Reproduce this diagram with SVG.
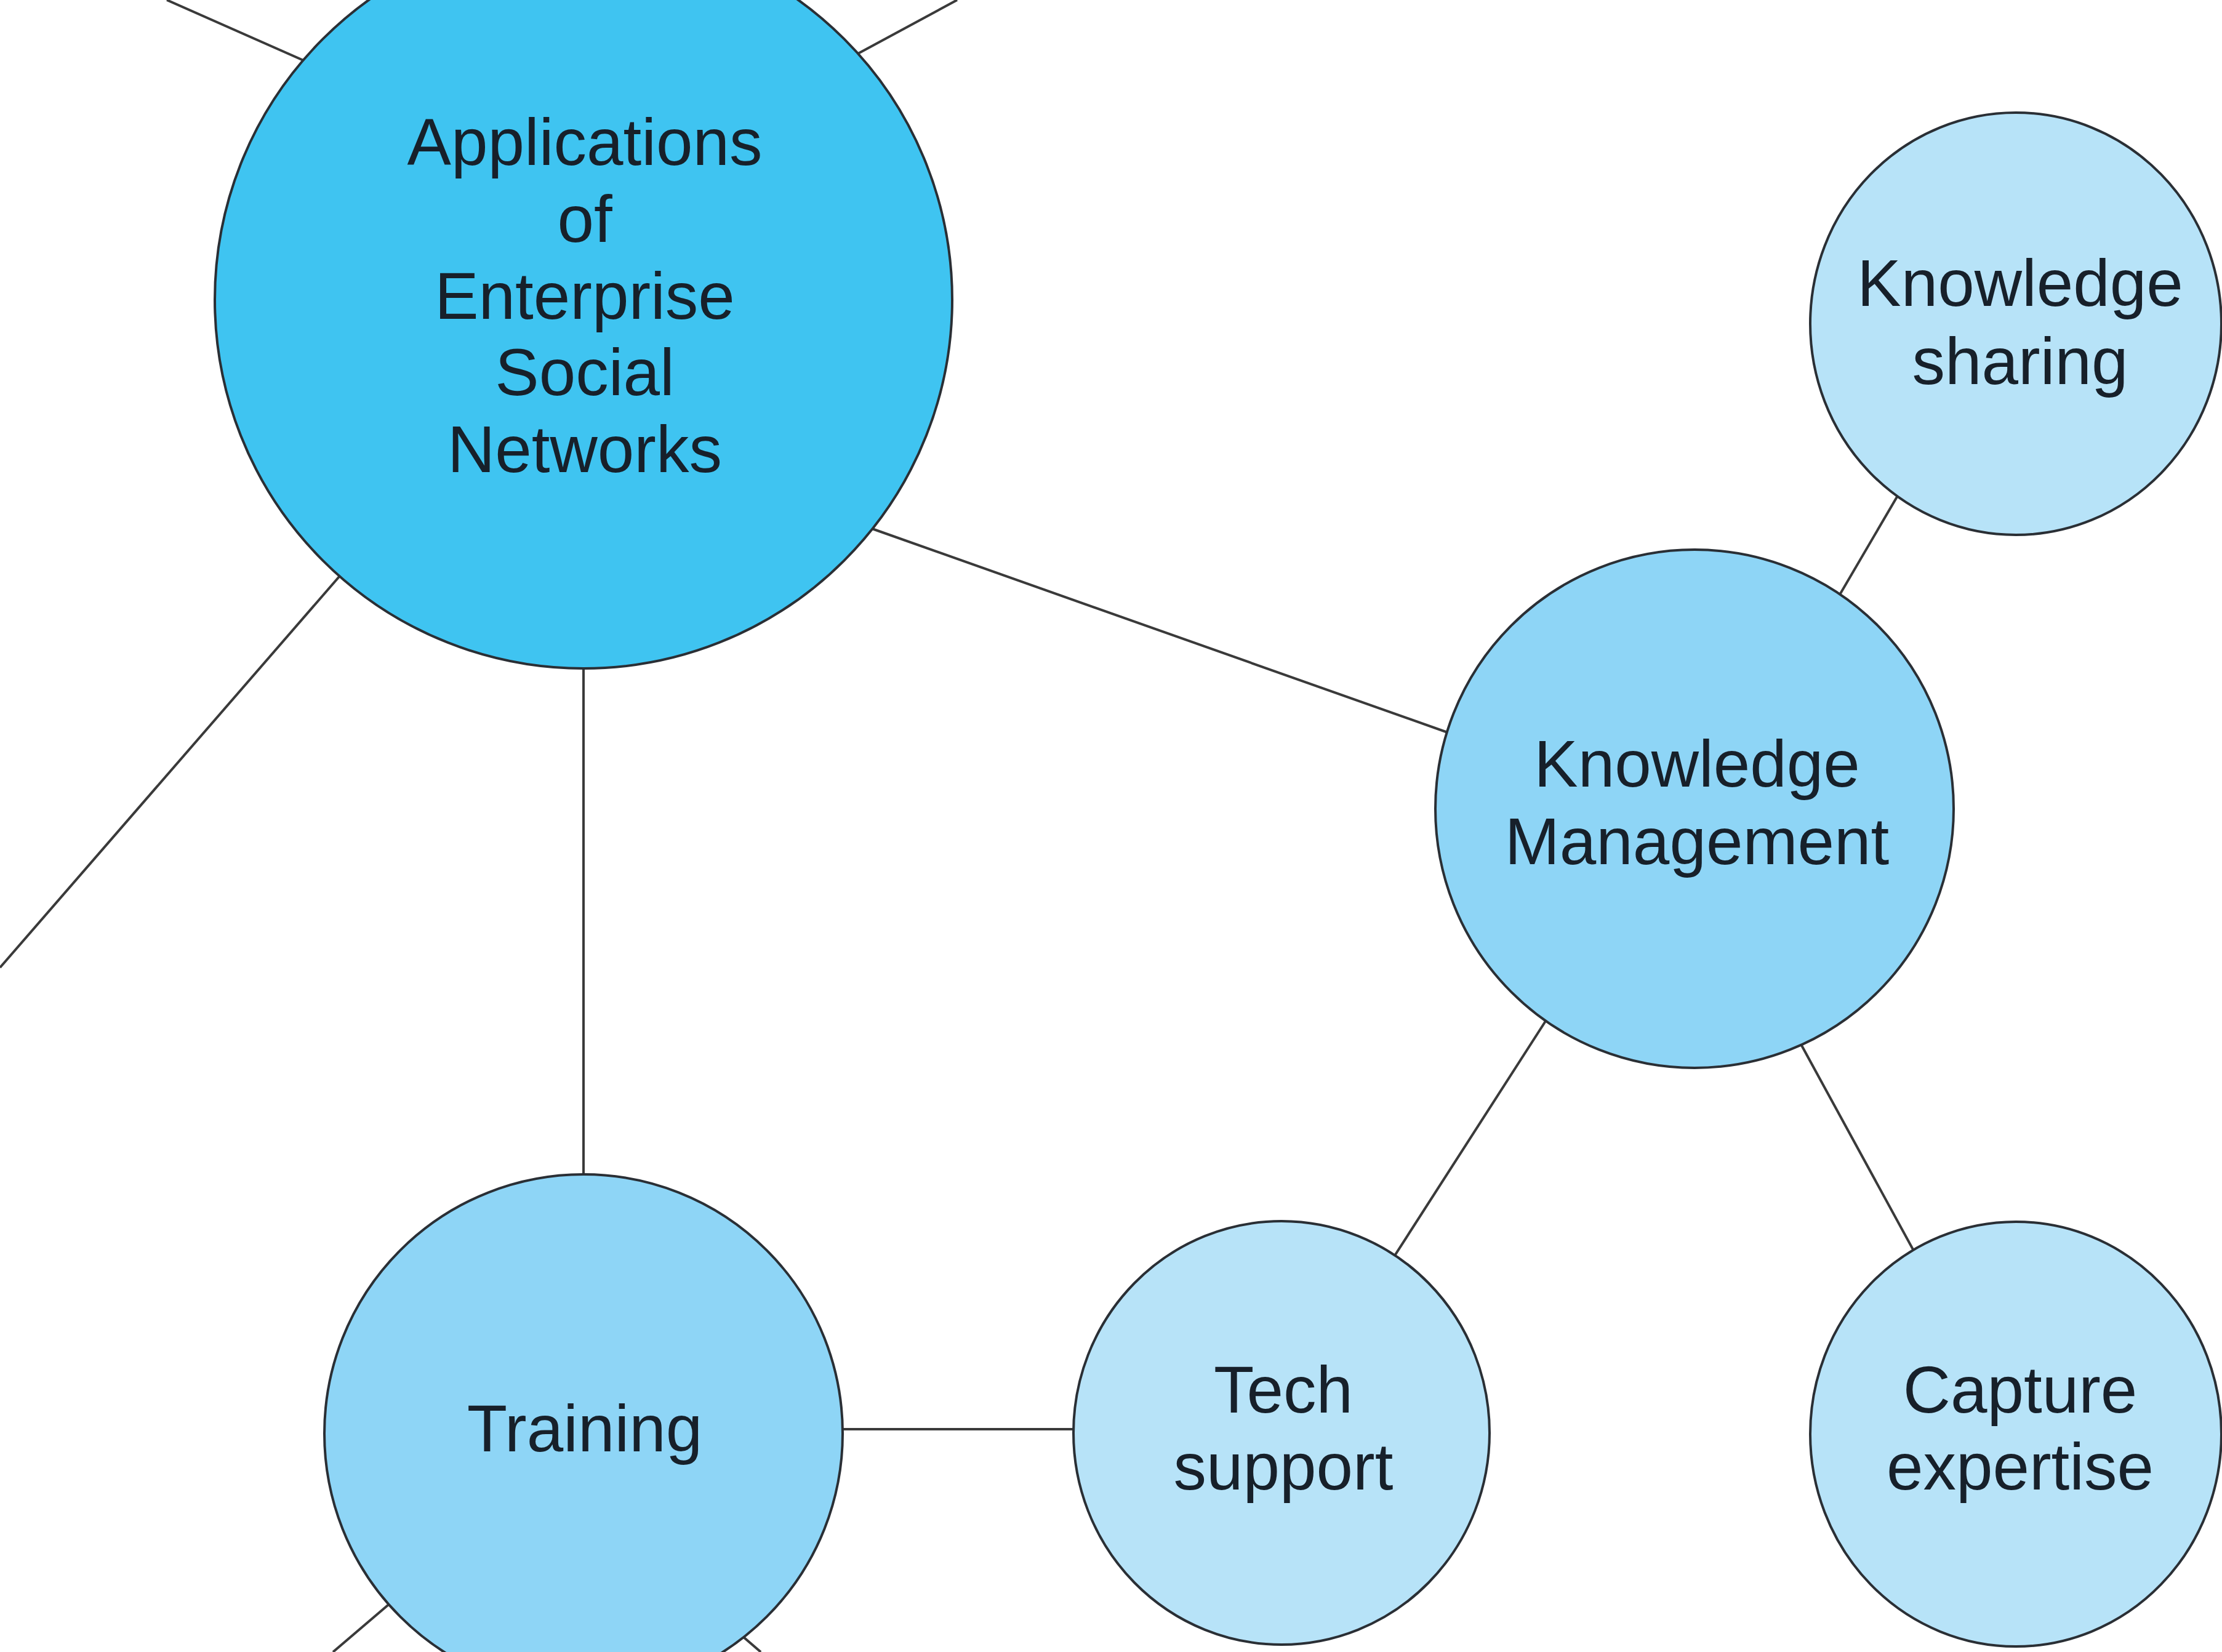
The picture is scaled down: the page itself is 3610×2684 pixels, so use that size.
<svg xmlns="http://www.w3.org/2000/svg" width="3610" height="2684" viewBox="0 0 3610 2684">
<style>
.bg{fill:#ffffff}
.edge{stroke:#3a3a3a;stroke-width:4;fill:none}
.node{stroke:#2a2f35;stroke-width:4}
.main{fill:#3fc4f1}
.mid{fill:#8ed5f6}
.light{fill:#b7e3f8}
.lbl{font-family:"Liberation Sans",Arial,Helvetica,sans-serif;font-size:107px;fill:#17202a;text-anchor:middle}
</style>
<rect class="bg" x="0" y="0" width="3610" height="2684"/>
<g id="connectors">
<line class="edge" x1="271" y1="0" x2="520" y2="110"/>
<line class="edge" x1="1555" y1="0" x2="1370" y2="100"/>
<line class="edge" x1="0" y1="1572" x2="570" y2="915"/>
<line class="edge" x1="948" y1="1060" x2="948" y2="1930"/>
<line class="edge" x1="1400" y1="853" x2="2380" y2="1200"/>
<line class="edge" x1="2975" y1="990" x2="3095" y2="785"/>
<line class="edge" x1="2520" y1="1645" x2="2255" y2="2057"/>
<line class="edge" x1="2918" y1="1682" x2="3120" y2="2052"/>
<line class="edge" x1="1340" y1="2322" x2="1770" y2="2322"/>
<line class="edge" x1="650" y1="2591" x2="541" y2="2684"/>
<line class="edge" x1="1185" y1="2640" x2="1236" y2="2684"/>
</g>
<g id="node-main">
<circle class="node main" cx="948" cy="487" r="599"/>
<text class="lbl"><tspan x="950" y="268">Applications</tspan><tspan x="950" y="393">of</tspan><tspan x="950" y="518">Enterprise</tspan><tspan x="950" y="642">Social</tspan><tspan x="950" y="767">Networks</tspan></text>
</g>
<g id="node-km">
<circle class="node mid" cx="2753" cy="1314" r="421"/>
<text class="lbl"><tspan x="2757" y="1278">Knowledge</tspan><tspan x="2757" y="1404">Management</tspan></text>
</g>
<g id="node-ks">
<ellipse class="node light" cx="3275" cy="526" rx="334" ry="343"/>
<text class="lbl"><tspan x="3282" y="497">Knowledge</tspan><tspan x="3282" y="624">sharing</tspan></text>
</g>
<g id="node-training">
<circle class="node mid" cx="948" cy="2329" r="421"/>
<text class="lbl" x="950" y="2358">Training</text>
</g>
<g id="node-tech">
<ellipse class="node light" cx="2082" cy="2328" rx="338" ry="344"/>
<text class="lbl"><tspan x="2085" y="2295">Tech</tspan><tspan x="2085" y="2420">support</tspan></text>
</g>
<g id="node-capture">
<ellipse class="node light" cx="3275" cy="2330" rx="334" ry="345"/>
<text class="lbl"><tspan x="3282" y="2295">Capture</tspan><tspan x="3282" y="2420">expertise</tspan></text>
</g>
</svg>
